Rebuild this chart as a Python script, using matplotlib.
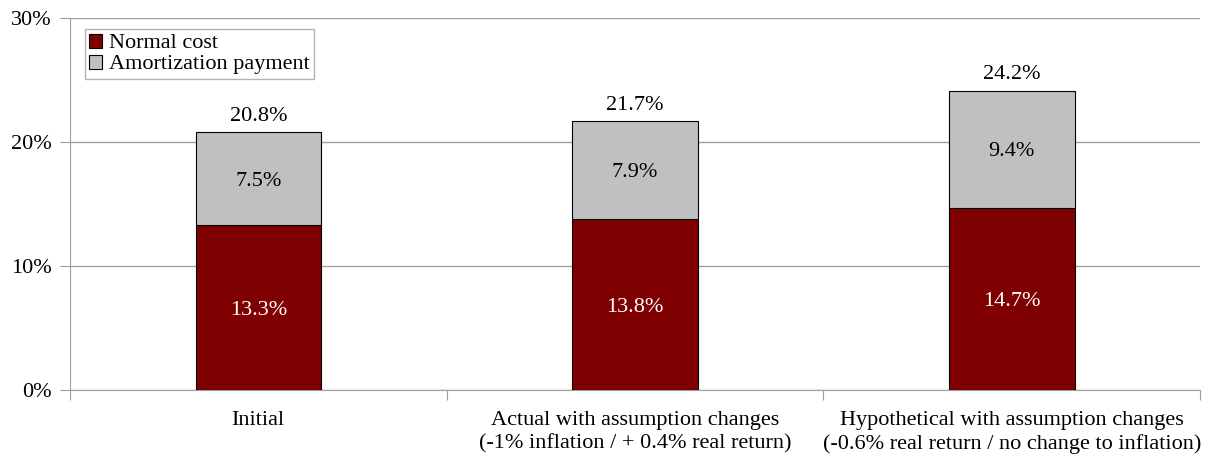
import numpy as np
import matplotlib.pyplot as plt
from matplotlib.ticker import FuncFormatter

categories = ['Initial',
              'Actual with assumption changes\n(-1% inflation / + 0.4% real return)',
              'Hypothetical with assumption changes\n(-0.6% real return / no change to inflation)']
normal_cost = [13.3, 13.8, 14.7]
amortization = [7.5, 7.9, 9.4]
totals = [20.8, 21.7, 24.2]

plt.rcParams['font.family'] = ['Liberation Serif', 'DejaVu Serif']
plt.rcParams['font.size'] = 16

fig = plt.figure(figsize=(12.05, 4.59), dpi=100)
ax = fig.add_axes([0.058, 0.150, 0.938, 0.811])

x = np.arange(len(categories))
w = 0.333
red = '#7f0000'
grey = '#c0c0c0'
ax.bar(x, normal_cost, w, color=red, edgecolor='black', linewidth=0.8,
       label='Normal cost', zorder=3)
ax.bar(x, amortization, w, bottom=normal_cost, color=grey, edgecolor='black',
       linewidth=0.8, label='Amortization payment', zorder=3)

for i in range(len(x)):
    ax.text(x[i], normal_cost[i] / 2 - 0.2, f'{normal_cost[i]:.1f}%', ha='center', va='center',
            color='white', zorder=4)
    ax.text(x[i], normal_cost[i] + amortization[i] / 2 - 0.2, f'{amortization[i]:.1f}%',
            ha='center', va='center', color='black', zorder=4)
    ax.text(x[i], totals[i] + 0.45, f'{totals[i]:.1f}%', ha='center', va='bottom',
            color='black', zorder=4)

ax.set_xlim(-0.5, 2.5)
ax.set_ylim(0, 30)
ax.set_yticks([0, 10, 20, 30])
ax.yaxis.set_major_formatter(FuncFormatter(lambda v, p: f'{v:.0f}%'))
ax.grid(axis='y', color='#a0a0a0', linewidth=1, zorder=0)

ax.set_xticks([-0.5, 0.5, 1.5, 2.5])
ax.set_xticklabels([])
ax.set_xticks(x, minor=True)
ax.set_xticklabels(categories, minor=True, linespacing=1.3)
ax.tick_params(axis='x', which='minor', length=0, pad=15)
ax.tick_params(axis='x', which='major', length=7, color='#a0a0a0', direction='out')
ax.tick_params(axis='y', length=7, color='#a0a0a0', direction='out', pad=6)
for s in ['top', 'right']:
    ax.spines[s].set_visible(False)
for s in ['left', 'bottom']:
    ax.spines[s].set_color('#a0a0a0')

leg = ax.legend(loc='upper left', bbox_to_anchor=(0.013, 0.97), frameon=True, fancybox=False,
                edgecolor='#a0a0a0', handlelength=0.6, handleheight=0.6, handletextpad=0.3,
                borderpad=0.2, labelspacing=0.05, borderaxespad=0)
leg.get_frame().set_linewidth(1)

fig.savefig('out.png', dpi=100)
